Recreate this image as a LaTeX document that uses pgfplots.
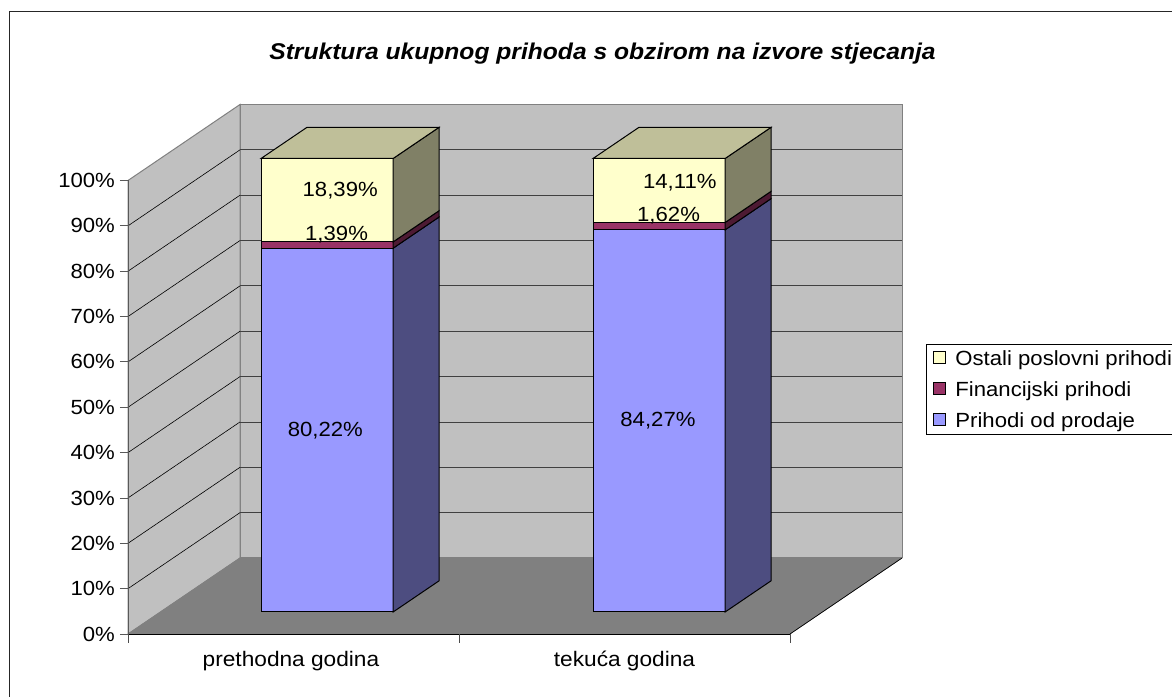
\documentclass[border=0pt]{standalone}
\usepackage{pgfplots}
\pgfplotsset{compat=1.18}
\usepackage{fontspec}
\setmainfont[FakeStretch=1.08]{Liberation Sans}
\definecolor{wall}{HTML}{C0C0C0}
\definecolor{floorc}{HTML}{808080}
\definecolor{edgec}{HTML}{808080}
\definecolor{blueF}{HTML}{9999FF}
\definecolor{blueS}{HTML}{4D4D80}
\definecolor{redF}{HTML}{993366}
\definecolor{redS}{HTML}{4D1A33}
\definecolor{yelF}{HTML}{FFFFCC}
\definecolor{yelS}{HTML}{808066}
\definecolor{yelT}{HTML}{BFBF99}
\newcommand{\lab}{\fontsize{20.5}{24}\selectfont}
\newcommand{\cat}{\fontsize{21}{24}\selectfont}
% one stacked segment: x0 x1 z0 z1 front side
\newcommand{\seg}[6]{%
  \addplot3[draw=black,line width=1pt,fill=#5,forget plot] coordinates {(#1,0.29,#3) (#2,0.29,#3) (#2,0.29,#4) (#1,0.29,#4)} --cycle;
  \addplot3[draw=black,line width=1pt,fill=#6,forget plot] coordinates {(#2,0.29,#3) (#2,0.70,#3) (#2,0.70,#4) (#2,0.29,#4)} --cycle;
}
\newcommand{\lidtop}[2]{%
  \addplot3[draw=black,line width=1pt,fill=yelT,forget plot] coordinates {(#1,0.29,100) (#2,0.29,100) (#2,0.70,100) (#1,0.70,100)} --cycle;
}
\begin{document}
\begin{tikzpicture}[x=1pt,y=1pt]
\path[use as bounding box] (0,0) rectangle (1172,696);
\draw[black!85,line width=1pt] (9,-5) -- (9,684.5) -- (1180,684.5);
\begin{axis}[
  at={(128pt,62pt)}, anchor=origin,
  x={(331pt,0pt)}, y={(112pt,76pt)}, z={(0pt,4.535pt)},
  xmin=0, xmax=2, ymin=0, ymax=1, zmin=0, zmax=100,
  hide axis,
  clip=false,
  legend cell align=left,
  legend style={
    at={(axis description cs:1.031,0.5485)}, anchor=north west,
    font=\lab, draw=black, line width=0.8pt,
    inner xsep=7pt, inner ysep=3.5pt,
    nodes={inner sep=0pt, text height=18pt, text depth=3pt},
    /tikz/row sep=10pt, /tikz/column sep=9pt,
  },
  legend image code/.code={\draw[#1,draw=black,line width=1pt] (0pt,-5.5pt) rectangle (12pt,6.5pt);},
]
% walls and floor
\addplot3[draw=edgec,line width=1pt,fill=wall,forget plot] coordinates {(0,1,0) (2,1,0) (2,1,100) (0,1,100)} --cycle;
\addplot3[draw=edgec,line width=1pt,fill=wall,forget plot] coordinates {(0,0,0) (0,1,0) (0,1,100) (0,0,100)} --cycle;
\addplot3[draw=edgec,line width=0.6pt,fill=floorc,forget plot] coordinates {(0,0,0) (2,0,0) (2,1,0) (0,1,0)} --cycle;
\addplot3[black,line width=0.7pt,forget plot] coordinates {(2,0,0) (2,1,0)};
% grid
\pgfplotsinvokeforeach{10,20,...,90}{
  \addplot3[black,line width=0.6pt,forget plot] coordinates {(0,0,#1) (0,1,#1)};
  \addplot3[black!75,line width=0.8pt,forget plot] coordinates {(0,1,#1) (2,1,#1)};
}
% axis lines and ticks
\addplot3[black,line width=0.8pt,forget plot] coordinates {(0,0,0) (2,0,0)};
\addplot3[black!65,line width=1pt,forget plot] coordinates {(0,0,0) (0,0,100)};
\pgfplotsinvokeforeach{0,10,...,100}{
  \addplot3[black!65,line width=0.8pt,forget plot] coordinates {(-0.0242,0,#1) (0,0,#1)};
  \node[anchor=east,inner sep=0pt,font=\lab] at (axis cs:-0.039,0,#1) {#1\%};
}
\pgfplotsinvokeforeach{0,1,2}{
  \addplot3[black!70,line width=0.8pt,forget plot] coordinates {(#1,0,-1.9) (#1,0,0)};
}
\node[inner sep=0pt,font=\cat] at (axis cs:0.4924,0,-5.95) {prethodna godina};
\node[inner sep=0pt,font=\cat] at (axis cs:1.5,0,-5.95) {tekuća godina};
% bars
\seg{0.304}{0.703}{0}{80.22}{blueF}{blueS}
\seg{0.304}{0.703}{80.22}{81.61}{redF}{redS}
\seg{0.304}{0.703}{81.61}{100}{yelF}{yelS}
\lidtop{0.304}{0.703}
\seg{1.307}{1.706}{0}{84.27}{blueF}{blueS}
\seg{1.307}{1.706}{84.27}{85.89}{redF}{redS}
\seg{1.307}{1.706}{85.89}{100}{yelF}{yelS}
\lidtop{1.307}{1.706}
% data labels
\node[inner sep=0pt,font=\lab] at (axis cs:0.498,0.29,39.9) {80,22\%};
\node[inner sep=0pt,font=\lab,anchor=base] at (axis cs:0.532,0.29,81.8) {1,39\%};
\node[inner sep=0pt,font=\lab] at (axis cs:0.543,0.29,92.8) {18,39\%};
\node[inner sep=0pt,font=\lab] at (axis cs:1.503,0.29,42.1) {84,27\%};
\node[inner sep=0pt,font=\lab,anchor=base] at (axis cs:1.535,0.29,86.2) {1,62\%};
\node[inner sep=0pt,font=\lab] at (axis cs:1.569,0.29,94.6) {14,11\%};
\addlegendimage{fill=yelF}
\addlegendentry{Ostali poslovni prihodi}
\addlegendimage{fill=redF}
\addlegendentry{Financijski prihodi}
\addlegendimage{fill=blueF}
\addlegendentry{Prihodi od prodaje}
\end{axis}
\node[font=\fontsize{22.8}{28}\selectfont\bfseries\itshape] at (602.5,642) {Struktura ukupnog prihoda s obzirom na izvore stjecanja};
\end{tikzpicture}
\end{document}
